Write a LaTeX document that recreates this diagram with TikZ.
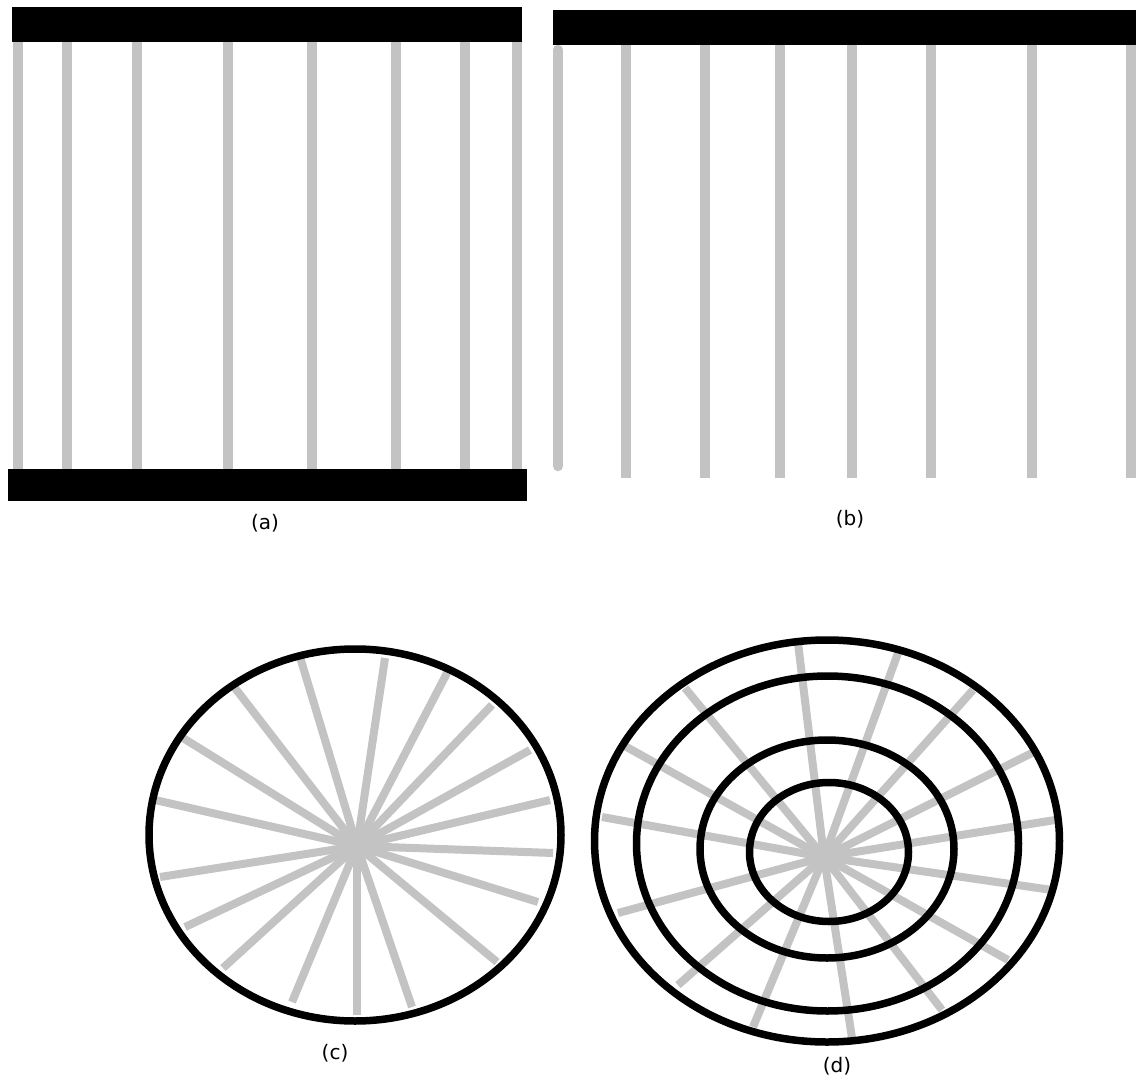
\documentclass[tikz,border=0pt]{standalone}
\usepackage{fontspec}
\setmainfont{DejaVu Sans}
\definecolor{spoke}{HTML}{C3C3C3}
\tikzset{
  beam/.style={fill=black, draw=none},
  rod/.style={draw=spoke, line width=10.5pt},
  ray/.style={draw=spoke, line width=8pt},
  ring/.style={draw=black, line width=7.5pt},
  figlabel/.style={font=\fontsize{20}{24}\selectfont, inner sep=0pt}
}
\begin{document}
\begin{tikzpicture}[x=1pt,y=-1pt]
\useasboundingbox (0,0) rectangle (1136,1081);
\fill[white] (0,0) rectangle (1136,1081);
% ---------- (a)
\foreach \x in {18,67,137,228,312,396,465,517}
  \draw[rod] (\x,40) -- (\x,471);
\fill[beam] (12,7) rectangle (522,42);
\fill[beam] (8,469) rectangle (527,501);
\node[figlabel] (la) at (265,523) {(a)};
% ---------- (b)
\draw[rod, line cap=round] (558,50) -- (558,466);
\foreach \x in {626,705,780,852,931,1032,1131}
  \draw[rod] (\x,44) -- (\x,478);
\fill[beam] (553,10) rectangle (1136,45);
\node[figlabel] (lb) at (850,519) {(b)};
% ---------- (c)
\coordinate (cc) at (357,846);
\foreach \p in {(300,657),(385,658),(447,673),(492,705),(530,750),(550,800),(553,853),(538,902),(497,962),(412,1007),(357,1015),(292,1002),(223,968),(185,927),(160,877),(155,800),(183,738),(235,688)}
  \draw[ray] (cc) -- \p;
\draw[ring] (355,835) ellipse [x radius=206, y radius=186];
\node[figlabel] (lc) at (335,1053) {(c)};
% ---------- (d)
\coordinate (cd) at (824,857);
\foreach \p in {(798,643),(898,653),(973,690),(1032,753),(1055,820),(1052,890),(1008,960),(942,1010),(852,1038),(753,1027),(678,985),(618,913),(602,817),(623,745),(685,688)}
  \draw[ray] (cd) -- \p;
\draw[ring] (827,841) ellipse [x radius=232.5, y radius=201];
\draw[ring] (827.5,843.5) ellipse [x radius=191, y radius=167.5];
\draw[ring] (827,849) ellipse [x radius=127, y radius=109];
\draw[ring] (829,852) ellipse [x radius=79.5, y radius=69.5];
\node[figlabel] (ld) at (837,1066) {(d)};
\end{tikzpicture}
\end{document}
